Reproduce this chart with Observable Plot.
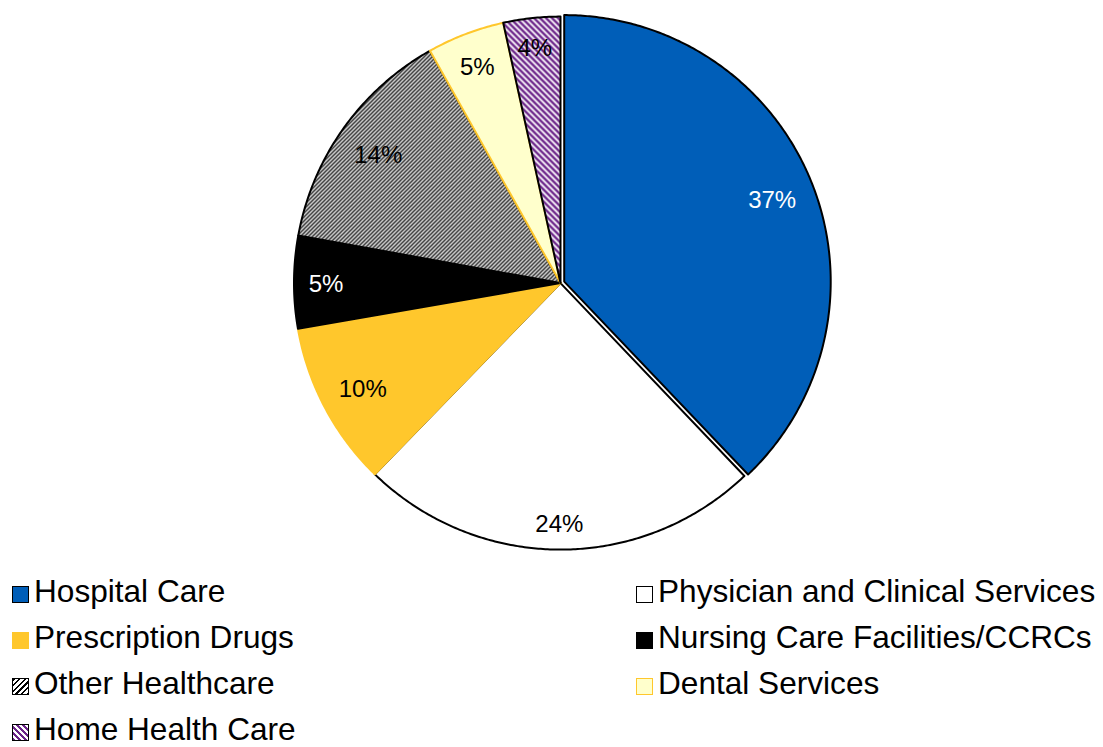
<!DOCTYPE html>
<html>
<head>
<meta charset="utf-8">
<script src="https://cdn.jsdelivr.net/npm/d3@7"></script>
<script src="https://cdn.jsdelivr.net/npm/@observablehq/plot@0.6"></script>
<style>
  body { margin: 0; background: #fff; }
  #wrap { position: relative; width: 1103px; height: 747px; overflow: hidden; font-family: "Liberation Sans", Arial, sans-serif; }
  #legend { display: grid; grid-template-columns: 624px auto; margin-left: 12px; margin-top: 3.5px; }
  .item { display: flex; align-items: center; height: 46px; font-size: 31.6px; line-height: 0.85; color: #000; white-space: nowrap; }
  .sw { width: 17px; height: 17px; box-sizing: border-box; border: 1.6px solid #000; position: relative; top: 3px; margin-right: 5px; flex: none; }
</style>
</head>
<body>
<div id="wrap"><div id="chart"></div><div id="legend"></div></div>
<script>
// ---- data ----
const categories = ["Hospital Care", "Physician and Clinical Services", "Prescription Drugs",
  "Nursing Care Facilities/CCRCs", "Other Healthcare", "Dental Services", "Home Health Care"];
const shares = [37.9, 24.4, 10.0, 5.6, 14.0, 4.7, 3.45];
const pctLabels = ["37%", "24%", "10%", "5%", "14%", "5%", "4%"];

// ---- styles ----
const fills = ["#005EB8", "#FFFFFF", "#FFC72C", "#000000", "url(#hatch-other)", "#FFFFCC", "url(#hatch-home)"];
const strokes = ["#000", "#000", "#FFC72C", "#000", "#000", "#FFC72C", "#000"];
const labelInk = ["white", "black", "black", "white", "black", "black", "black"];
const legendBg = ["#005EB8", "#FFFFFF", "#FFC72C", "#000000",
  "repeating-linear-gradient(135deg, #000 0 1.6px, #fff 1.6px 4px)", "#FFFFCC",
  "repeating-linear-gradient(45deg, #6B2489 0 2px, #fff 2px 4.2px)"];
const exploded = "Hospital Care";

const W = 1103, H = 565;
const cx = 560, cy = 282.6, R = 266.5;
const explodePx = 4;

const arcs = d3.pie().sort(null).value(d => d)(shares);
const slices = arcs.map((a, i) => {
  const mid = (a.startAngle + a.endAngle) / 2;
  const off = categories[i] === exploded ? explodePx / R : 0;
  const ox = off * Math.sin(mid), oy = off * Math.cos(mid);
  const n = Math.max(2, Math.ceil((a.endAngle - a.startAngle) / (Math.PI / 360)));
  const pts = [{x: ox, y: oy}];
  for (let k = 0; k <= n; k++) {
    const t = a.startAngle + (a.endAngle - a.startAngle) * k / n;
    pts.push({x: ox + Math.sin(t), y: oy + Math.cos(t)});
  }
  pts.push({x: ox, y: oy});
  // inside-end label placement
  const fs = 24;
  const txt = pctLabels[i];
  const tw = fs * ([...txt].reduce((s, c) => s + (c === "%" ? 0.889 : 0.556), 0));
  const hw = tw / 2 + 7, hh = 18;
  const ux = Math.sin(mid), uy = -Math.cos(mid);
  const A = Math.sign(ux) * hw, B = Math.sign(uy) * hh;
  const Rp = R - 7;
  const dot = ux * A + uy * B;
  const d = -dot + Math.sqrt(dot * dot - (A * A + B * B - Rp * Rp));
  return {name: categories[i], pts, label: {x: ox + d * ux / R, y: oy + d * Math.cos(mid) / R, text: txt, ink: labelInk[i]}};
});

const marks = slices.map((s, i) => Plot.line(s.pts, {
  x: "x", y: "y", fill: fills[i], stroke: strokes[i], strokeWidth: 2,
  strokeLinejoin: "round", curve: "linear"
}));
marks.push(Plot.text(slices.map(s => s.label), {
  x: "x", y: "y", text: "text", fill: "ink", fontSize: 24,
  textAnchor: "middle", lineAnchor: "middle", dy: 2
}));

const plot = Plot.plot({
  width: W, height: H,
  marginLeft: cx - R, marginRight: W - (cx + R),
  marginTop: cy - R, marginBottom: H - (cy + R),
  x: {domain: [-1, 1], axis: null},
  y: {domain: [-1, 1], axis: null},
  color: {type: "identity"},
  style: {fontFamily: "'Liberation Sans', Arial, sans-serif", background: "#fff", overflow: "visible"},
  marks
});

d3.select(plot).insert("defs", ":first-child").html(`
  <pattern id="hatch-other" patternUnits="userSpaceOnUse" width="4" height="4">
    <rect width="4" height="4" fill="#fff"/>
    <path d="M-1,1 L1,-1 M0,4 L4,0 M3,5 L5,3" stroke="#000" stroke-width="1.3"/>
  </pattern>
  <pattern id="hatch-home" patternUnits="userSpaceOnUse" width="6" height="6">
    <rect width="6" height="6" fill="#fff"/>
    <path d="M-1,-1 L7,7 M-1,5 L1,7 M5,-1 L7,1" stroke="#6B2489" stroke-width="2.4"/>
  </pattern>`);

document.getElementById("chart").appendChild(plot);

const legend = d3.select("#legend");
categories.forEach((c, i) => {
  const it = legend.append("div").attr("class", "item");
  it.append("span").attr("class", "sw")
    .style("background", legendBg[i])
    .style("border-color", strokes[i]);
  it.append("span").text(c);
});
</script>
</body>
</html>
